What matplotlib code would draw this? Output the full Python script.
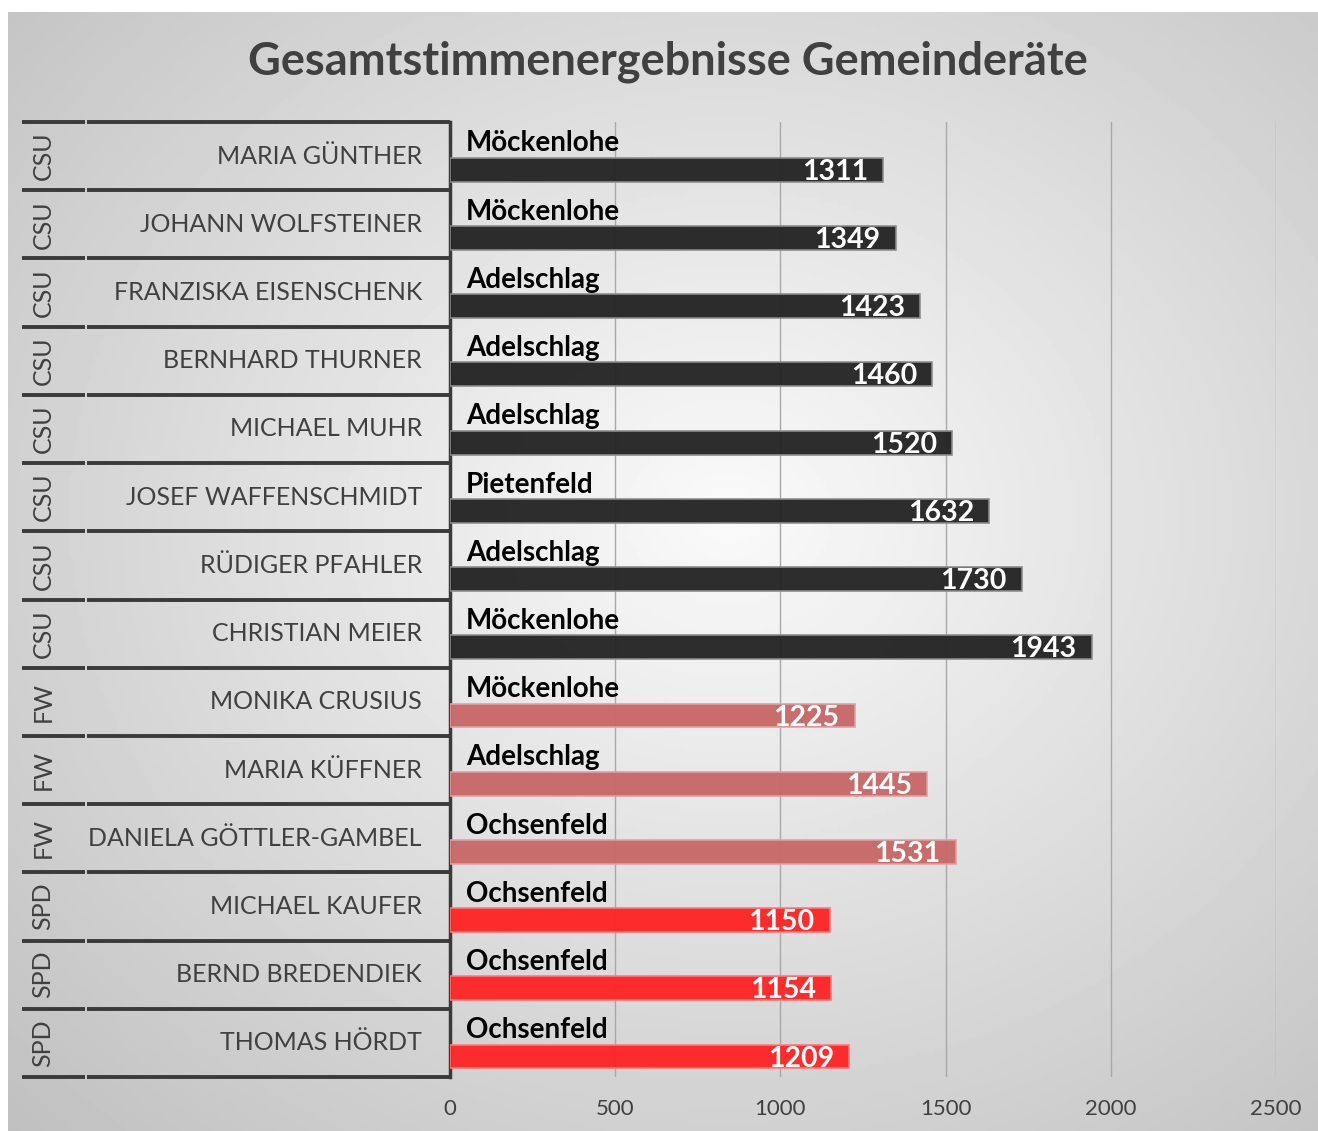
import matplotlib.pyplot as plt
import numpy as np

plt.rcParams['font.family'] = ['Lato', 'DejaVu Sans']

parteien = ["CSU"] * 8 + ["FW"] * 3 + ["SPD"] * 3
namen = ["MARIA GÜNTHER", "JOHANN WOLFSTEINER", "FRANZISKA EISENSCHENK",
         "BERNHARD THURNER", "MICHAEL MUHR", "JOSEF WAFFENSCHMIDT",
         "RÜDIGER PFAHLER", "CHRISTIAN MEIER", "MONIKA CRUSIUS",
         "MARIA KÜFFNER", "DANIELA GÖTTLER-GAMBEL", "MICHAEL KAUFER",
         "BERND BREDENDIEK", "THOMAS HÖRDT"]
orte = ["Möckenlohe", "Möckenlohe", "Adelschlag", "Adelschlag", "Adelschlag",
        "Pietenfeld", "Adelschlag", "Möckenlohe", "Möckenlohe", "Adelschlag",
        "Ochsenfeld", "Ochsenfeld", "Ochsenfeld", "Ochsenfeld"]
stimmen = [1311, 1349, 1423, 1460, 1520, 1632, 1730, 1943,
           1225, 1445, 1531, 1150, 1154, 1209]
ticks = [0, 500, 1000, 1500, 2000, 2500]

farben = {"CSU": "#262626", "FW": "#c86868", "SPD": "#ff2626"}
kanten = {"CSU": "#8c8c8c", "FW": "#e0a0a0", "SPD": "#ff7a7a"}
txt = "#404040"

W, H = 1318, 1131
fig = plt.figure(figsize=(W / 100, H / 100), dpi=100)

# Hintergrund mit radialem Verlauf
bg = fig.add_axes([8 / W, 0, 1 - 8 / W, 1 - 12 / H], zorder=-10)
yy, xx = np.mgrid[0:1:300j, 0:1:300j]
r = np.sqrt(((xx - 0.55) / 0.75) ** 2 + ((yy - 0.45) / 0.75) ** 2)
bg.imshow(np.clip(0.98 - 0.22 * r, 0, 1), cmap="gray", vmin=0, vmax=1,
          aspect="auto", extent=[0, 1, 0, 1])
bg.axis("off")

ax = fig.add_axes([450 / W, 1 - 1077 / H, 826 / W, 955 / H])
ax.patch.set_alpha(0)
n = len(stimmen)
bh = 0.35
off = 0.2

for i in range(n):
    p = parteien[i]
    ax.barh(i + off, stimmen[i], height=bh, color=farben[p], edgecolor=kanten[p],
            linewidth=1.2, alpha=0.97, zorder=3)
    ax.text(48, i + off - bh / 2 - 0.02, orte[i], ha="left", va="bottom",
            fontsize=20, fontweight="bold", color="black", zorder=4)
    ax.annotate(str(stimmen[i]), (stimmen[i], i + off + 0.03), xytext=(-11, 0),
                textcoords="offset points", ha="right", va="center",
                fontsize=20.5, fontweight="bold", color="white", zorder=4)

ax.set_xlim(0, 2500)
ax.set_ylim(n - 0.5, -0.5)
ax.set_xticks(ticks)
ax.set_xticklabels([str(t) for t in ticks])
ax.tick_params(axis="x", length=0, labelsize=16, labelcolor=txt, pad=16)
ax.set_yticks([])
ax.grid(axis="x", color="#a8a8a8", linewidth=1)
ax.set_axisbelow(True)
for s in ["top", "right", "bottom"]:
    ax.spines[s].set_visible(False)
ax.spines["left"].set_color("#3a3a3a")
ax.spines["left"].set_linewidth(2.5)

# Kategorienbeschriftung links
tr = ax.get_yaxis_transform()
xa = -(450 - 22) / 826
xb = -(450 - 85) / 826
xc = -(450 - 86.5) / 826
for k in range(n + 1):
    ax.plot([xa, xb], [k - 0.5, k - 0.5], transform=tr, color="#3a3a3a",
            lw=2.8, clip_on=False, solid_capstyle="butt")
    ax.plot([xc, 0], [k - 0.5, k - 0.5], transform=tr, color="#3a3a3a",
            lw=2.8, clip_on=False, solid_capstyle="butt")
for i in range(n):
    ax.text(-(450 - 422) / 826, i, namen[i], transform=tr,
            ha="right", va="center", fontsize=18, color=txt)
    ax.text(-(450 - 43) / 826, i, parteien[i], transform=tr,
            ha="center", va="center", rotation=90, fontsize=18, color=txt)

fig.text(668 / W, 1 - 62 / H, "Gesamtstimmenergebnisse Gemeinderäte",
         ha="center", va="center", fontsize=32.5, fontweight="bold", color=txt)

fig.savefig("out.png", dpi=100)
